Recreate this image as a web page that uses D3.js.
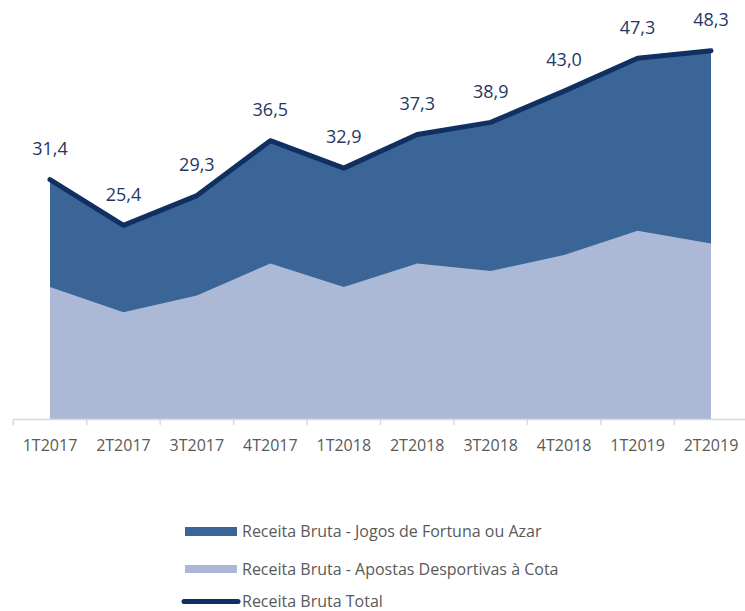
<!DOCTYPE html>
<html>
<head>
<meta charset="utf-8">
<script src="https://cdn.jsdelivr.net/npm/d3@7"></script>
<style>
  body { margin: 0; background: #fff; }
  text { font-family: "Open Sans", sans-serif; }
</style>
</head>
<body>
<svg id="chart"></svg>
<script>
var width = 745,
    height = 611;

// data
var quarters = ["1T2017", "2T2017", "3T2017", "4T2017", "1T2018", "2T2018", "3T2018", "4T2018", "1T2019", "2T2019"];
var total = [31.4, 25.4, 29.3, 36.5, 32.9, 37.3, 38.9, 43.0, 47.3, 48.3];
var apostas = [17.3, 14.0, 16.2, 20.4, 17.3, 20.4, 19.4, 21.5, 24.7, 23.0];
var legendLabels = ["Receita Bruta - Jogos de Fortuna ou Azar", "Receita Bruta - Apostas Desportivas à Cota", "Receita Bruta Total"];

var colDark = "#3b6597",
    colLight = "#abb9d6",
    colLine = "#0f3060",
    colLabel = "#1f3864",
    colText = "#595959";

var svg = d3.select("#chart")
    .attr("width", width)
    .attr("height", height);

var x = d3.scalePoint()
    .domain(quarters)
    .range([50, 711]);

var y = d3.scaleLinear()
    .domain([0, 48.3])
    .range([419, 50.7]);

var step = x.step();

var rows = quarters.map(function(q, i) {
    return { q: q, total: total[i], apostas: apostas[i] };
});

// upper area: total
var areaTotal = d3.area()
    .x(function(d) { return x(d.q); })
    .y0(y(0))
    .y1(function(d) { return y(d.total); });

var areaApostas = d3.area()
    .x(function(d) { return x(d.q); })
    .y0(y(0))
    .y1(function(d) { return y(d.apostas); });

svg.append("path")
    .datum(rows)
    .attr("d", areaTotal)
    .style("fill", colDark);

svg.append("path")
    .datum(rows)
    .attr("d", areaApostas)
    .style("fill", colLight);

// x axis
var axisG = svg.append("g");
axisG.append("line")
    .attr("x1", x(quarters[0]) - step / 2)
    .attr("x2", x(quarters[quarters.length - 1]) + step / 2)
    .attr("y1", y(0) + 0.5)
    .attr("y2", y(0) + 0.5)
    .style("stroke", "#d9d9d9")
    .style("stroke-width", 1.5);

var bounds = d3.range(quarters.length + 1).map(function(i) {
    return x(quarters[0]) - step / 2 + i * step;
});
axisG.selectAll(".tk")
    .data(bounds)
    .enter().append("line")
    .attr("x1", function(d) { return d; })
    .attr("x2", function(d) { return d; })
    .attr("y1", y(0))
    .attr("y2", y(0) + 6)
    .style("stroke", "#d9d9d9")
    .style("stroke-width", 1.5);

axisG.selectAll(".cat")
    .data(quarters)
    .enter().append("text")
    .attr("x", function(d) { return x(d); })
    .attr("y", 451)
    .style("text-anchor", "middle")
    .style("font-size", "16px")
    .style("fill", colText)
    .text(function(d) { return d; });

// total line
var line = d3.line()
    .x(function(d) { return x(d.q); })
    .y(function(d) { return y(d.total); });

svg.append("path")
    .datum(rows)
    .attr("d", line)
    .style("fill", "none")
    .style("stroke", colLine)
    .style("stroke-width", 5)
    .style("stroke-linejoin", "round")
    .style("stroke-linecap", "round");

// value labels
svg.selectAll(".val")
    .data(rows)
    .enter().append("text")
    .attr("x", function(d) { return x(d.q); })
    .attr("y", function(d) { return y(d.total) - 31; })
    .attr("dy", "0.35em")
    .style("text-anchor", "middle")
    .style("font-size", "18px")
    .style("fill", colLabel)
    .text(function(d) { return d.total.toFixed(1).replace(".", ","); });

// legend
var legend = svg.append("g");
var legY = [531.5, 569, 601.5];

legend.append("rect")
    .attr("x", 185).attr("y", legY[0] - 4.5)
    .attr("width", 52).attr("height", 9)
    .style("fill", colDark);
legend.append("rect")
    .attr("x", 185).attr("y", legY[1] - 4)
    .attr("width", 52).attr("height", 8)
    .style("fill", colLight);
legend.append("line")
    .attr("x1", 184).attr("x2", 238)
    .attr("y1", legY[2]).attr("y2", legY[2])
    .style("stroke", colLine)
    .style("stroke-width", 5)
    .style("stroke-linecap", "round");

legend.selectAll(".lt")
    .data(legendLabels)
    .enter().append("text")
    .attr("x", 242)
    .attr("y", function(d, i) { return legY[i]; })
    .attr("dy", "0.35em")
    .style("font-size", "16px")
    .style("fill", colText)
    .text(function(d) { return d; });
</script>
</body>
</html>
